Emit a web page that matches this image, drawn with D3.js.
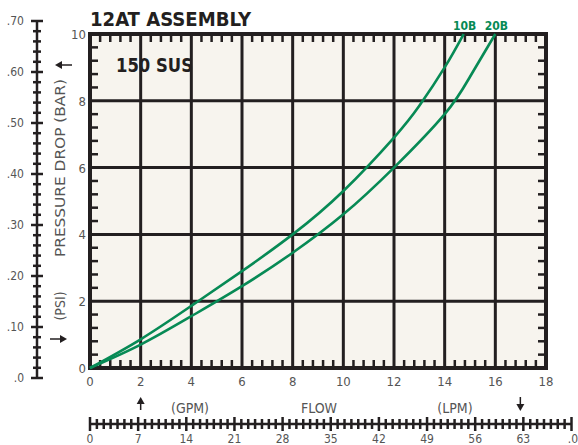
<!DOCTYPE html>
<html>
<head>
<meta charset="utf-8">
<script src="https://cdn.jsdelivr.net/npm/d3@7"></script>
<style>
  body { margin: 0; background: #fff; }
  text { font-family: "DejaVu Sans Condensed", "Liberation Sans Narrow", sans-serif; }
</style>
</head>
<body>
<script>
// chart data
var gpm10 = [0, 2, 4, 6, 8, 10, 12, 13, 14, 14.75];
var bar10 = [0, 0.86, 1.86, 2.9, 4.0, 5.3, 6.9, 7.85, 9.0, 10];
var gpm20 = [0, 2, 4, 6, 8, 10, 12, 14, 15, 16];
var bar20 = [0, 0.7, 1.55, 2.45, 3.45, 4.6, 6.0, 7.6, 8.72, 10];
var seriesNames = ['10B', '20B'];
var gpmTicks = [0, 2, 4, 6, 8, 10, 12, 14, 16, 18];
var barTicks = [0, 2, 4, 6, 8, 10];
var psiTicks = [0, 0.1, 0.2, 0.3, 0.4, 0.5, 0.6, 0.7];
var psiLabels = ['.0', '.10', '.20', '.30', '.40', '.50', '.60', '.70'];
var lpmTicks = [0, 7, 14, 21, 28, 35, 42, 49, 56, 63, 70];
var lpmLabels = ['0', '7', '14', '21', '28', '35', '42', '49', '56', '63', '.0'];

var width = 578, height = 445;
var dark = '#231f20', green = '#078a55', grey = '#555';

var svg = d3.select('body').append('svg')
  .attr('width', width)
  .attr('height', height);

var x = d3.scaleLinear().domain([0, 18]).range([90, 546]);
var y = d3.scaleLinear().domain([0, 10]).range([368, 34]);
var psi = d3.scaleLinear().domain([0, 0.7]).range([378, 21]);
var lpm = d3.scaleLinear().domain([0, 70]).range([90, 571.5]);

// plot background
svg.append('rect')
  .attr('x', x(0)).attr('y', y(10))
  .attr('width', x(18) - x(0)).attr('height', y(0) - y(10))
  .attr('fill', '#f7f4ee');

// grid
svg.selectAll('.vgrid').data(gpmTicks.slice(1, -1)).enter().append('line')
  .attr('x1', function(d) { return x(d); }).attr('x2', function(d) { return x(d); })
  .attr('y1', y(0)).attr('y2', y(10))
  .attr('stroke', dark).attr('stroke-width', 3);
svg.selectAll('.hgrid').data(barTicks.slice(1, -1)).enter().append('line')
  .attr('y1', function(d) { return y(d); }).attr('y2', function(d) { return y(d); })
  .attr('x1', x(0)).attr('x2', x(18))
  .attr('stroke', dark).attr('stroke-width', 3);

// minor ticks inside the frame, every 0.4
var minorX = d3.range(1, 45).map(function(i) { return i * 0.4; }).filter(function(d) { return Math.abs(d / 2 - Math.round(d / 2)) > 0.01; });
var minorY = d3.range(1, 25).map(function(i) { return i * 0.4; }).filter(function(d) { return Math.abs(d / 2 - Math.round(d / 2)) > 0.01; });
var tl = 8;
minorX.forEach(function(d) {
  svg.append('line').attr('x1', x(d)).attr('x2', x(d)).attr('y1', y(0)).attr('y2', y(0) - tl)
    .attr('stroke', dark).attr('stroke-width', 2.5);
  svg.append('line').attr('x1', x(d)).attr('x2', x(d)).attr('y1', y(10)).attr('y2', y(10) + tl)
    .attr('stroke', dark).attr('stroke-width', 2.5);
});
minorY.forEach(function(d) {
  svg.append('line').attr('y1', y(d)).attr('y2', y(d)).attr('x1', x(0)).attr('x2', x(0) + tl)
    .attr('stroke', dark).attr('stroke-width', 2.5);
  svg.append('line').attr('y1', y(d)).attr('y2', y(d)).attr('x1', x(18)).attr('x2', x(18) - tl)
    .attr('stroke', dark).attr('stroke-width', 2.5);
});

// frame
svg.append('rect')
  .attr('x', x(0)).attr('y', y(10))
  .attr('width', x(18) - x(0)).attr('height', y(0) - y(10))
  .attr('fill', 'none').attr('stroke', dark).attr('stroke-width', 4);

// curves
var line = d3.line()
  .x(function(d) { return x(d[0]); })
  .y(function(d) { return y(d[1]); })
  .curve(d3.curveNatural);
var series = [d3.zip(gpm10, bar10), d3.zip(gpm20, bar20)];
svg.selectAll('.curve').data(series).enter().append('path')
  .attr('d', line)
  .attr('fill', 'none').attr('stroke', green).attr('stroke-width', 2.6);
svg.selectAll('.sname').data(series).enter().append('text')
  .attr('x', function(d) { return x(d[d.length - 1][0]) + 1; })
  .attr('y', 30)
  .attr('text-anchor', 'middle')
  .attr('font-size', 12).attr('font-weight', 'bold').attr('fill', green)
  .text(function(d, i) { return seriesNames[i]; });

// tick labels for the plot
svg.selectAll('.xl').data(gpmTicks).enter().append('text')
  .attr('x', function(d) { return x(d); }).attr('y', 386)
  .attr('text-anchor', 'middle').attr('font-size', 13).attr('fill', grey)
  .text(function(d) { return d; });
svg.selectAll('.yl').data(barTicks).enter().append('text')
  .attr('x', 86).attr('y', function(d) { return y(d) + 5; })
  .attr('text-anchor', 'end').attr('font-size', 13).attr('fill', grey)
  .text(function(d) { return d; });

// PSI scale on the far left
var psiMinor = d3.range(0, 36).map(function(i) { return i * 0.02; });
svg.append('line').attr('x1', 37).attr('x2', 37).attr('y1', psi(0.7)).attr('y2', psi(0))
  .attr('stroke', dark).attr('stroke-width', 2.5);
svg.selectAll('.pt').data(psiMinor).enter().append('line')
  .attr('x1', function(d, i) { return (i % 5 == 0) ? 31 : 33; })
  .attr('x2', function(d, i) { return (i % 5 == 0) ? 43 : 41; })
  .attr('y1', function(d) { return psi(d); }).attr('y2', function(d) { return psi(d); })
  .attr('stroke', dark).attr('stroke-width', 2.5);
svg.selectAll('.pl').data(psiTicks).enter().append('text')
  .attr('x', 24).attr('y', function(d) { return psi(d) + 4; })
  .attr('text-anchor', 'end').attr('font-size', 12).attr('fill', grey)
  .text(function(d, i) { return psiLabels[i]; });

// LPM scale at the bottom
var lpmMinor = d3.range(0, 71);
svg.append('line').attr('x1', lpm(0)).attr('x2', lpm(70)).attr('y1', 424).attr('y2', 424)
  .attr('stroke', dark).attr('stroke-width', 2.5);
svg.selectAll('.lt').data(lpmMinor).enter().append('line')
  .attr('x1', function(d) { return lpm(d); }).attr('x2', function(d) { return lpm(d); })
  .attr('y1', function(d) { return (d % 7 == 0) ? 417 : 419; })
  .attr('y2', function(d) { return (d % 7 == 0) ? 431 : 429; })
  .attr('stroke', dark).attr('stroke-width', 2.5);
svg.selectAll('.ll').data(lpmTicks).enter().append('text')
  .attr('x', function(d) { return d == 70 ? 578 : lpm(d); }).attr('y', 443)
  .attr('text-anchor', function(d) { return d == 70 ? 'end' : 'middle'; })
  .attr('font-size', 12).attr('fill', grey)
  .text(function(d, i) { return lpmLabels[i]; });

// titles
svg.append('text').attr('x', 90).attr('y', 26)
  .attr('font-size', 20).attr('font-weight', 'bold').attr('fill', dark)
  .attr('textLength', 161).attr('lengthAdjust', 'spacingAndGlyphs')
  .text('12AT ASSEMBLY');
svg.append('text').attr('x', 116).attr('y', 72)
  .attr('font-size', 20).attr('font-weight', 'bold').attr('fill', dark)
  .attr('textLength', 77).attr('lengthAdjust', 'spacingAndGlyphs')
  .text('150 SUS');

// axis titles
svg.append('text').attr('transform', 'translate(65,168) rotate(-90)')
  .attr('text-anchor', 'middle').attr('font-size', 14).attr('fill', grey)
  .attr('textLength', 178).attr('lengthAdjust', 'spacingAndGlyphs')
  .text('PRESSURE DROP  (BAR)');
svg.append('text').attr('transform', 'translate(65,306) rotate(-90)')
  .attr('text-anchor', 'middle').attr('font-size', 14).attr('fill', grey)
  .text('(PSI)');
svg.append('text').attr('x', 190).attr('y', 413).attr('text-anchor', 'middle')
  .attr('font-size', 14).attr('fill', grey).text('(GPM)');
svg.append('text').attr('x', 319).attr('y', 413).attr('text-anchor', 'middle')
  .attr('font-size', 14).attr('fill', grey).text('FLOW');
svg.append('text').attr('x', 455).attr('y', 413).attr('text-anchor', 'middle')
  .attr('font-size', 14).attr('fill', grey).text('(LPM)');

// little arrows
var arrow = function(x1, y1, x2, y2) {
  var a = Math.atan2(y2 - y1, x2 - x1), h = 7, w = 4;
  var bx = x2 - Math.cos(a) * h, by = y2 - Math.sin(a) * h;
  svg.append('line').attr('x1', x1).attr('y1', y1).attr('x2', bx).attr('y2', by)
    .attr('stroke', dark).attr('stroke-width', 1.5);
  svg.append('path')
    .attr('d', 'M' + x2 + ',' + y2 + 'L' + (bx - Math.sin(a) * w) + ',' + (by + Math.cos(a) * w) +
      'L' + (bx + Math.sin(a) * w) + ',' + (by - Math.cos(a) * w) + 'Z')
    .attr('fill', dark);
};
arrow(x(2), 410, x(2), 397);
arrow(lpm(63) - 3, 397, lpm(63) - 3, 411);
arrow(72, 65, 55, 65);
arrow(50, 339, 67, 339);
</script>
</body>
</html>
